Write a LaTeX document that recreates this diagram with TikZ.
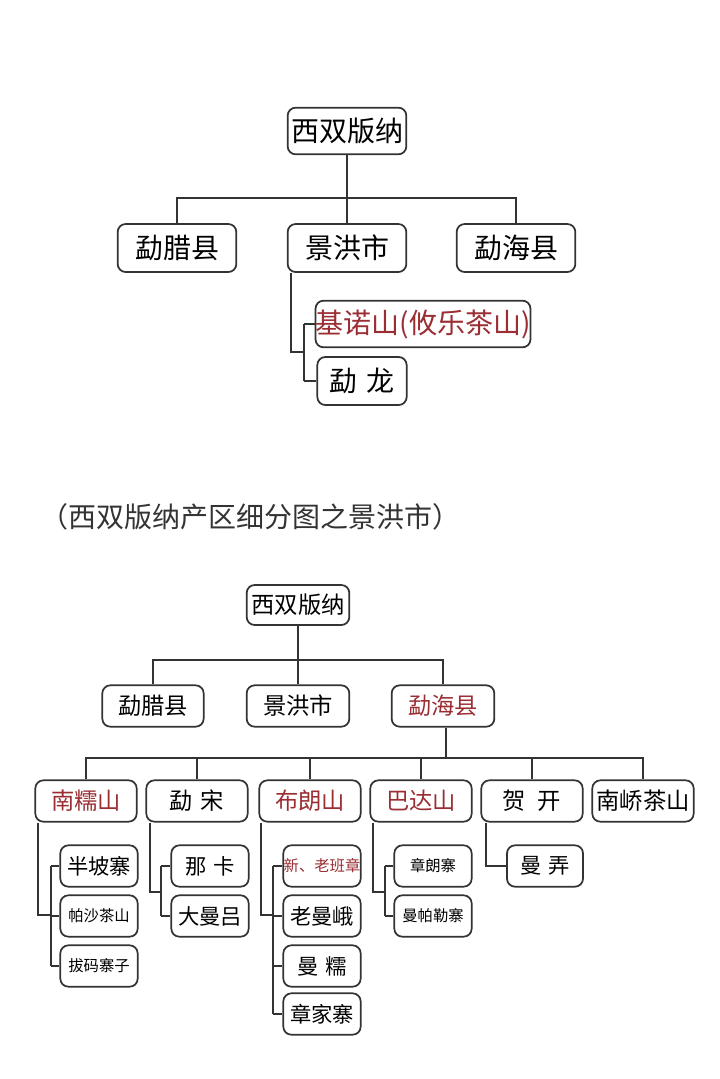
\documentclass[tikz,border=0pt]{standalone}
\usepackage{fontspec}
\setmainfont{Noto Sans CJK SC}
\definecolor{redt}{HTML}{9A2E33}
\definecolor{ln}{HTML}{333333}
\tikzset{
 box/.style={draw=ln,line width=1.3pt,rounded corners=6pt,fill=white,inner sep=0pt},
 con/.style={draw=ln,line width=1.1pt},
 big/.style={font=\fontsize{21}{21}\selectfont},
 mid/.style={font=\fontsize{17.5}{17.5}\selectfont},
 sm/.style={font=\fontsize{16}{16}\selectfont},
 xs/.style={font=\fontsize{11.5}{11.5}\selectfont},
 red/.style={text=redt}
}
\begin{document}
\begin{tikzpicture}[x=0.75pt,y=-0.75pt]
\useasboundingbox (0,0) rectangle (720,1079);
% ---------- top diagram
\node[box,big,minimum width=89pt,minimum height=35pt] (t0) at (347,131) {西双版纳};
\node[box,big,minimum width=89pt,minimum height=36pt] (t1) at (177,248) {勐腊县};
\node[box,big,minimum width=89pt,minimum height=36pt] (t2) at (347,248) {景洪市};
\node[box,big,minimum width=89pt,minimum height=36pt] (t3) at (516,248) {勐海县};
\node[box,big,red,minimum width=160pt,minimum height=35pt] (t4) at (423,324) {基诺山(攸乐茶山)};
\node[box,big,minimum width=67pt,minimum height=36pt] (t5) at (362,381) {勐\,\,龙};
\coordinate (tb) at (347,198);
\draw[con] (t0) -- (tb);
\draw[con] (t1.north) |- (tb) -| (t3.north);
\draw[con] (tb) -- (t2.north);
\coordinate (ta) at (291,352);
\coordinate (tv) at (304,352);
\draw[con] (t2.south -| ta) -- (ta) -- (tv);
\draw[con] (t4.west -| tv) -- (t4.west);
\draw[con] (t5.west -| tv) -- (t5.west);
\draw[con] (t4.west -| tv) -- (t5.west -| tv);
% ---------- caption
\node[anchor=west,font=\fontsize{21}{21}\selectfont,text=ln] (cap) at (36,517) {（西双版纳产区细分图之景洪市）};
% ---------- bottom diagram
\node[box,mid,minimum width=77pt,minimum height=30pt] (b0) at (298,605) {西双版纳};
\node[box,mid,minimum width=76pt,minimum height=31pt] (b1) at (153,706) {勐腊县};
\node[box,mid,minimum width=77pt,minimum height=31pt] (b2) at (298,706) {景洪市};
\node[box,mid,red,minimum width=77pt,minimum height=31pt] (b3) at (443,706) {勐海县};
\coordinate (bb) at (298,660);
\draw[con] (b0) -- (bb);
\draw[con] (b1.north) |- (bb) -| (b3.north);
\draw[con] (bb) -- (b2.north);
% level 2
\node[box,mid,red,minimum width=76pt,minimum height=31pt] (n1) at (86,801) {南糯山};
\node[box,mid,minimum width=76pt,minimum height=31pt] (n2) at (197,801) {勐\,\,宋};
\node[box,mid,red,minimum width=76pt,minimum height=31pt] (n3) at (310,801) {布朗山};
\node[box,mid,red,minimum width=76pt,minimum height=31pt] (n4) at (421,801) {巴达山};
\node[box,mid,minimum width=76pt,minimum height=31pt] (n5) at (532,801) {贺\,\,\,开};
\node[box,mid,minimum width=76pt,minimum height=31pt] (n6) at (643,801) {南峤茶山};
\coordinate (b2b) at (446,758);
\draw[con] (b3.south -| b2b) -- (b2b);
\draw[con] (n1.north) |- (b2b) -| (n6.north);
\foreach \n in {n2,n3,n4,n5} \draw[con] (\n.north) -- (\n.north |- b2b);
% level 3 : 南糯山
\node[box,sm,minimum width=58pt,minimum height=31pt] (m1) at (99,866) {半坡寨};
\node[box,xs,minimum width=58pt,minimum height=31pt] (m2) at (99,916) {帕沙茶山};
\node[box,xs,minimum width=58pt,minimum height=31pt] (m3) at (99,966) {拔码寨子};
\coordinate (ma) at (38,915); \coordinate (mv) at (51,915);
\draw[con] (n1.south -| ma) -- (ma) -- (mv);
\draw[con] (m1.west -| mv) -- (m3.west -| mv);
\foreach \n in {m1,m2,m3} \draw[con] (\n.west -| mv) -- (\n.west);
% 勐宋
\node[box,sm,minimum width=58pt,minimum height=31pt] (s1) at (210,866) {那\,\,卡};
\node[box,sm,minimum width=58pt,minimum height=31pt] (s2) at (210,916) {大曼吕};
\coordinate (sa) at (150,892); \coordinate (sv) at (161,892);
\draw[con] (n2.south -| sa) -- (sa) -- (sv);
\draw[con] (s1.west -| sv) -- (s2.west -| sv);
\foreach \n in {s1,s2} \draw[con] (\n.west -| sv) -- (\n.west);
% 布朗山
\node[box,xs,red,minimum width=58pt,minimum height=31pt] (l1) at (322,866) {新、老班章};
\node[box,sm,minimum width=58pt,minimum height=31pt] (l2) at (322,916) {老曼峨};
\node[box,sm,minimum width=58pt,minimum height=31pt] (l3) at (322,966) {曼\,\,糯};
\node[box,sm,minimum width=58pt,minimum height=31pt] (l4) at (322,1014) {章家寨};
\coordinate (la) at (261,915); \coordinate (lv) at (273,915);
\draw[con] (n3.south -| la) -- (la) -- (lv);
\draw[con] (l1.west -| lv) -- (l4.west -| lv);
\foreach \n in {l1,l2,l3,l4} \draw[con] (\n.west -| lv) -- (\n.west);
% 巴达山
\node[box,xs,minimum width=58pt,minimum height=31pt] (d1) at (433,866) {章朗寨};
\node[box,xs,minimum width=58pt,minimum height=31pt] (d2) at (433,916) {曼帕勒寨};
\coordinate (da) at (373,892); \coordinate (dv) at (385,892);
\draw[con] (n4.south -| da) -- (da) -- (dv);
\draw[con] (d1.west -| dv) -- (d2.west -| dv);
\foreach \n in {d1,d2} \draw[con] (\n.west -| dv) -- (\n.west);
% 贺开
\node[box,sm,minimum width=57pt,minimum height=31pt] (h1) at (545,866) {曼\,\,弄};
\coordinate (ha) at (486,866);
\draw[con] (n5.south -| ha) -- (ha) -- (h1.west);
\end{tikzpicture}
\end{document}
